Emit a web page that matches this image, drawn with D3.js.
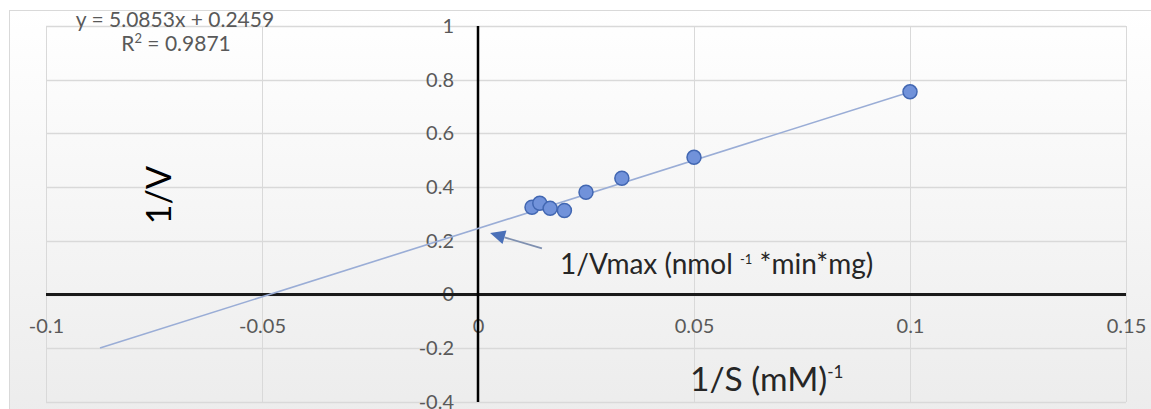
<!DOCTYPE html>
<html>
<head>
<meta charset="utf-8">
<script src="https://cdn.jsdelivr.net/npm/d3@7"></script>
<style>
  html, body { margin: 0; padding: 0; background: #ffffff; }
  svg { display: block; font-family: Lato, "Open Sans", sans-serif; }
</style>
</head>
<body>
<svg id="chart" width="1151" height="409"></svg>
<script>
// Lineweaver-Burk data: reciprocal substrate concentration vs reciprocal velocity
const inverseSubstrate = [0.0125, 0.0143, 0.0167, 0.0200, 0.0250, 0.0333, 0.0500, 0.1000];
const inverseVelocity  = [0.325, 0.340, 0.321, 0.313, 0.381, 0.433, 0.511, 0.755];

// Linear trendline as stated in the label
const trendSlope = 5.0853;
const trendIntercept = 0.2459;
const trendR2 = 0.9871;
const trendRange = [-0.0875, 0.1];

const xTicks = [-0.1, -0.05, 0, 0.05, 0.1, 0.15];
const xTickLabels = ["-0.1", "-0.05", "0", "0.05", "0.1", "0.15"];
const yTicks = [-0.4, -0.2, 0, 0.2, 0.4, 0.6, 0.8, 1];
const yTickLabels = ["-0.4", "-0.2", "0", "0.2", "0.4", "0.6", "0.8", "1"];

// Annotation arrow pointing at the y-intercept (data units)
const arrowTail = [0.0148, 0.172];
const arrowTip = [0.0028, 0.229];

const svg = d3.select("#chart");
const W = 1151, H = 409;

const x = d3.scaleLinear().domain([-0.1, 0.15]).range([46, 1126]);
const y = d3.scaleLinear().domain([-0.4, 1]).range([402, 26]);

// Chart area background with a soft vertical fade
const defs = svg.append("defs");
const grad = defs.append("linearGradient")
  .attr("id", "bgFade").attr("x1", 0).attr("y1", 0).attr("x2", 0).attr("y2", 1);
grad.append("stop").attr("offset", "0%").attr("stop-color", "#ffffff");
grad.append("stop").attr("offset", "100%").attr("stop-color", "#ececec");

svg.append("rect")
  .attr("x", 9.5).attr("y", 10.5).attr("width", W).attr("height", H)
  .attr("fill", "url(#bgFade)").attr("stroke", "#d9d9d9").attr("stroke-width", 1);

// Gridlines
const grid = svg.append("g").attr("class", "grid");
grid.selectAll("line.h").data(yTicks).join("line")
  .attr("class", "h")
  .attr("x1", x(-0.1)).attr("x2", x(0.15))
  .attr("y1", d => Math.round(y(d)) + 0.5).attr("y2", d => Math.round(y(d)) + 0.5)
  .attr("stroke", "#d9d9d9").attr("stroke-width", 1.5);
grid.selectAll("line.v").data(xTicks).join("line")
  .attr("class", "v")
  .attr("y1", y(1)).attr("y2", y(-0.4))
  .attr("x1", d => Math.round(x(d)) + 0.5).attr("x2", d => Math.round(x(d)) + 0.5)
  .attr("stroke", "#d9d9d9").attr("stroke-width", 1);

// Tick labels via D3 axes, placed on the zero lines
const xAxis = d3.axisBottom(x).tickValues(xTicks)
  .tickFormat((d, i) => xTickLabels[i]).tickSize(0).tickPadding(24);
const yAxis = d3.axisLeft(y).tickValues(yTicks)
  .tickFormat((d, i) => yTickLabels[i]).tickSize(0).tickPadding(24);

const gx = svg.append("g").attr("transform", `translate(0,${y(0)})`).call(xAxis);
const gy = svg.append("g").attr("transform", `translate(${x(0)},0)`).call(yAxis);
[gx, gy].forEach(g => {
  g.select(".domain").remove();
  g.selectAll("text").attr("fill", "#595959").style("font-size", "20px")
    .style("font-family", "Lato, 'Open Sans', sans-serif");
});

// Axis lines through the origin
svg.append("line")
  .attr("x1", x(-0.1)).attr("x2", x(0.15)).attr("y1", y(0)).attr("y2", y(0))
  .attr("stroke", "#1a1a1a").attr("stroke-width", 3);
svg.append("line")
  .attr("x1", x(0)).attr("x2", x(0)).attr("y1", y(1)).attr("y2", y(-0.4))
  .attr("stroke", "#000000").attr("stroke-width", 2.5);

// Trendline
svg.append("line")
  .attr("x1", x(trendRange[0])).attr("y1", y(trendSlope * trendRange[0] + trendIntercept))
  .attr("x2", x(trendRange[1])).attr("y2", y(trendSlope * trendRange[1] + trendIntercept))
  .attr("stroke", "#9aadd6").attr("stroke-width", 1.6);

// Data points
const points = inverseSubstrate.map((s, i) => ({ s, v: inverseVelocity[i] }));
svg.append("g").selectAll("circle").data(points).join("circle")
  .attr("cx", d => x(d.s)).attr("cy", d => y(d.v)).attr("r", 7)
  .attr("fill", "#7192da").attr("stroke", "#4267b2").attr("stroke-width", 1.5);

// Trendline equation
const eq = svg.append("g").attr("fill", "#595959").style("font-size", "21px")
  .attr("text-anchor", "middle");
eq.append("text").attr("x", 175).attr("y", 27)
  .text(`y = ${trendSlope}x + ${trendIntercept}`);
const r2 = eq.append("text").attr("x", 176).attr("y", 51);
r2.append("tspan").text("R");
r2.append("tspan").attr("dy", -8).style("font-size", "13px").text("2");
r2.append("tspan").attr("dy", 8).text(` = ${trendR2}`);

// Annotation arrow and label
const tail = [x(arrowTail[0]), y(arrowTail[1])];
const tip = [x(arrowTip[0]), y(arrowTip[1])];
const ang = Math.atan2(tip[1] - tail[1], tip[0] - tail[0]);
const headLen = 15, headHalf = 7;
const base = [tip[0] - headLen * Math.cos(ang), tip[1] - headLen * Math.sin(ang)];
svg.append("line")
  .attr("x1", tail[0]).attr("y1", tail[1]).attr("x2", base[0]).attr("y2", base[1])
  .attr("stroke", "#7f90b0").attr("stroke-width", 1.8);
svg.append("path")
  .attr("d", d3.line()([
    tip,
    [base[0] + headHalf * Math.sin(ang), base[1] - headHalf * Math.cos(ang)],
    [base[0] - headHalf * Math.sin(ang), base[1] + headHalf * Math.cos(ang)]
  ]) + "Z")
  .attr("fill", "#4a70b8");

const ann = svg.append("text").attr("x", 560).attr("y", 274)
  .attr("fill", "#262626").style("font-size", "28px");
ann.append("tspan").text("1/Vmax (nmol ");
ann.append("tspan").attr("dy", -10).style("font-size", "13px").text("-1");
ann.append("tspan").attr("dy", 10).text(" *min*mg)");

// Axis titles
svg.append("text")
  .attr("transform", "translate(171,195) rotate(-90)")
  .attr("text-anchor", "middle").attr("fill", "#000000")
  .style("font-size", "34px").text("1/V");

const xt = svg.append("text").attr("x", 690).attr("y", 391)
  .attr("fill", "#262626").style("font-size", "33.5px");
xt.append("tspan").text("1/S (mM)");
xt.append("tspan").attr("dy", -13).style("font-size", "17px").text("-1");
</script>
</body>
</html>
